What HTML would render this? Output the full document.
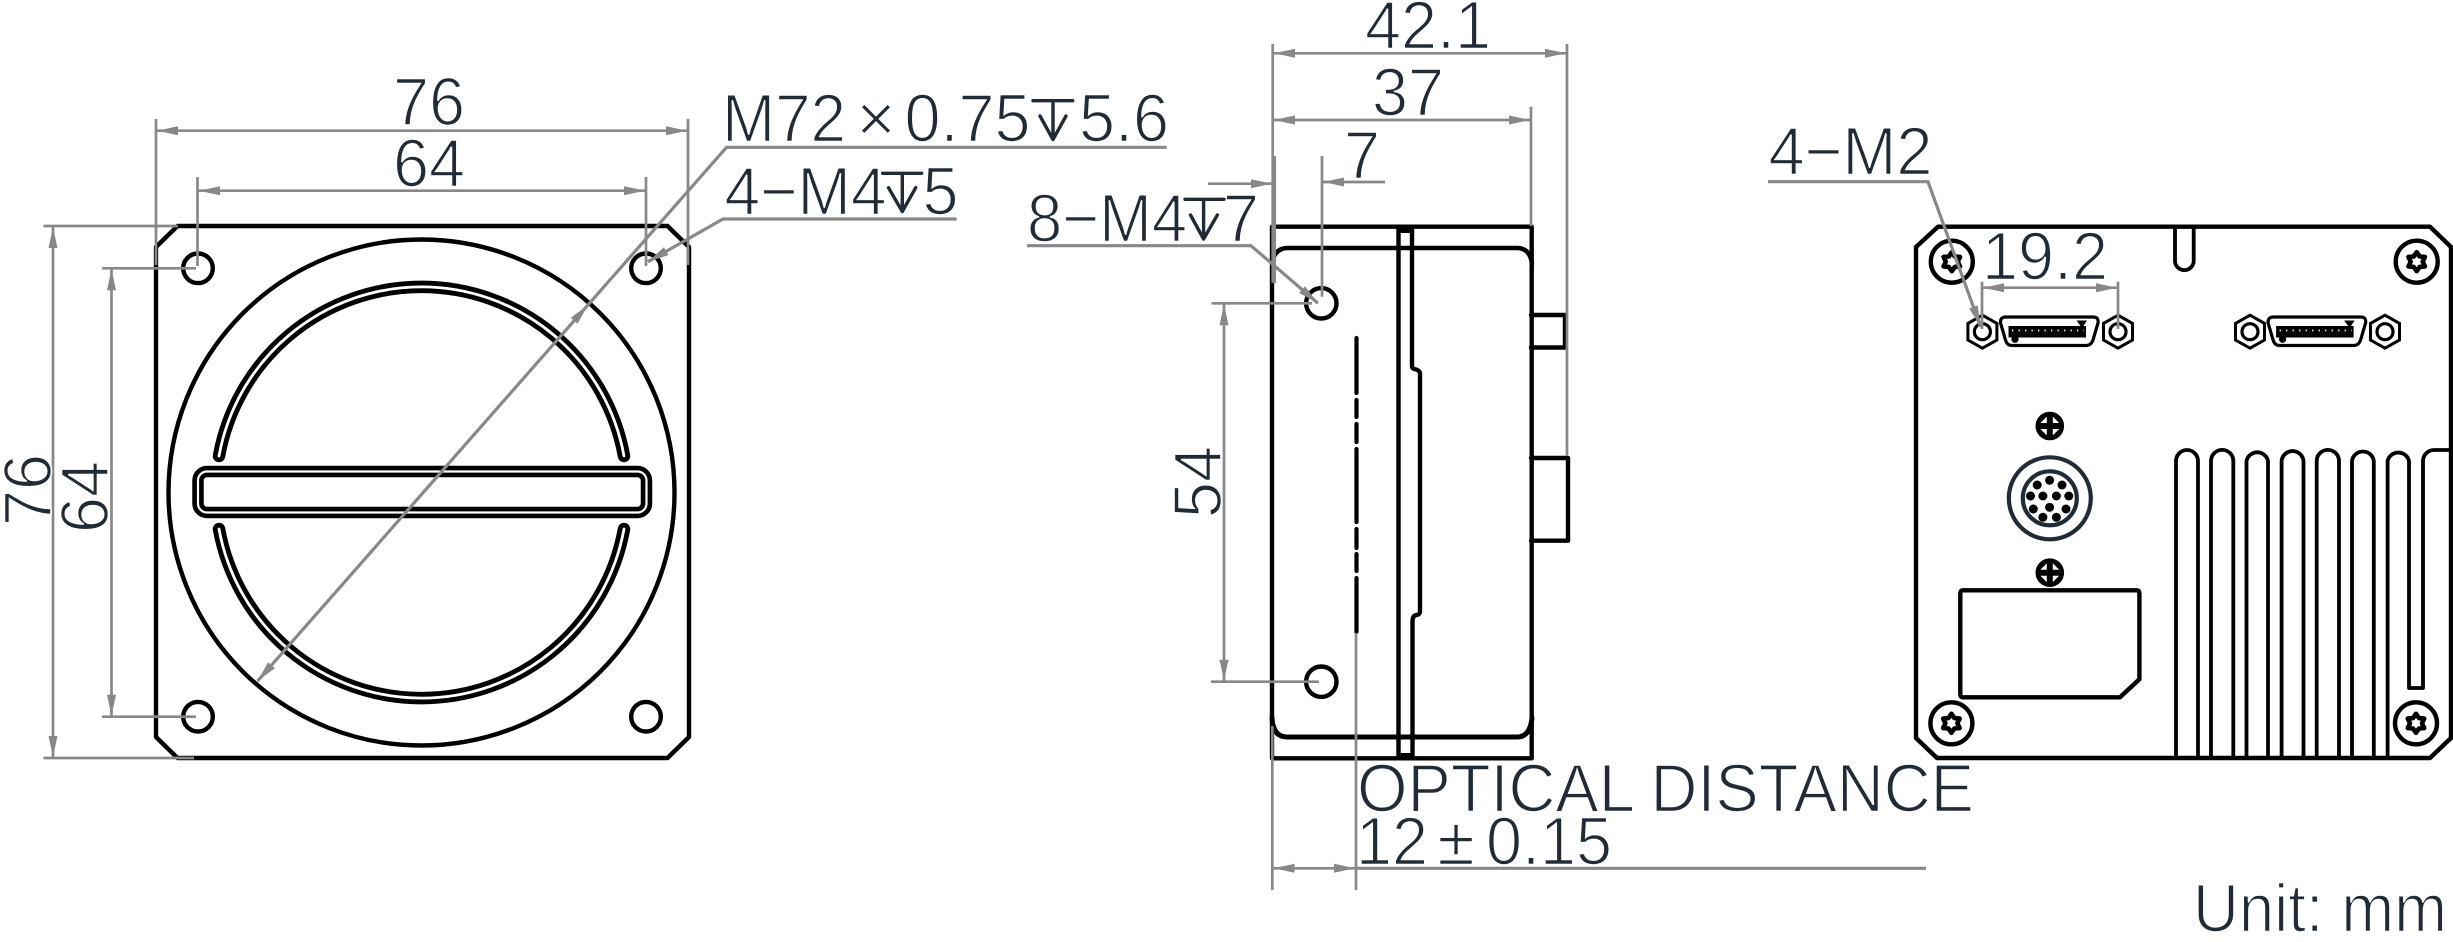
<!DOCTYPE html>
<html>
<head>
<meta charset="utf-8">
<style>
html,body{margin:0;padding:0;background:#fff}
svg{display:block}
text{font-family:"Liberation Sans",sans-serif;font-size:68px;fill:#212b36;stroke:#fff;stroke-width:1.6;paint-order:normal}
.k{fill:none;stroke:#000;stroke-width:4.4;stroke-linejoin:round;stroke-linecap:round}
.f{fill:none;stroke:#000;stroke-width:3.8;stroke-linejoin:round}
.g{fill:none;stroke:#888;stroke-width:2.7}
.u{fill:none;stroke:#888;stroke-width:3.2}
.a{fill:#888;stroke:none}
.s{fill:none;stroke:#212b36;stroke-width:3.4;stroke-linecap:round;stroke-linejoin:round}
</style>
</head>
<body>
<svg xmlns="http://www.w3.org/2000/svg" width="2453" height="942" viewBox="0 0 2453 942">
<defs>
<g id="screw">
<circle r="21" fill="#fff" stroke="#000" stroke-width="4.4"/>
<polygon points="0,-9.5 3,-5.2 8.23,-4.75 6,0 8.23,4.75 3,5.2 0,9.5 -3,5.2 -8.23,4.75 -6,0 -8.23,-4.75 -3,-5.2" fill="#fff" stroke="#000" stroke-width="4.6" stroke-linejoin="round"/>
</g>
<g id="nut">
<polygon points="0,-16.500 14.500,-8.300 14.500,8.300 0,16.500 -14.500,8.300 -14.500,-8.300" fill="#fff" stroke="#000" stroke-width="3" stroke-linejoin="miter"/>
<circle r="8" fill="#fff" stroke="#000" stroke-width="3.2"/>
</g>
<g id="conn">
<path d="M2006 317H2093Q2099 317 2098 323L2093 340Q2091 345.500 2086 345.500H2012Q2007 345.500 2005.500 340L2000.500 323Q2000 317 2006 317Z" fill="#fff" stroke="#000" stroke-width="3.2"/>
<rect x="2008.500" y="326" width="77.500" height="11.500" fill="#000"/>
<path d="M2012 330.500H2084" stroke="#fff" stroke-width="1.800" stroke-dasharray="1.300 5.200" fill="none"/>
<polygon points="2076.500,320.500 2087,320.500 2082,328" fill="#000"/>
<circle cx="2015" cy="339.300" r="3.600" fill="#000"/>
</g>
<g id="cross">
<circle r="14.300" fill="#000"/>
<path d="M3 3H9.400L3 9.400ZM-3 3H-9.400L-3 9.400ZM3 -3H9.400L3 -9.400ZM-3 -3H-9.400L-3 -9.400Z" fill="#fff"/>
</g>
<polygon id="ar" class="a" points="0,0 21,-4.500 21,4.500"/>
</defs>

<!-- FRONT VIEW -->
<path class="k" d="M177.500 226H667.500L689 247V737L667.500 758H177.500L156 737V247Z"/>
<circle class="k" cx="421.500" cy="492.500" r="253"/>
<g fill="none" stroke-linecap="round">
<path d="M219 456A205.800 205.800 0 0 1 624 456" stroke="#000" stroke-width="12.500"/>
<path d="M219 456A205.800 205.800 0 0 1 624 456" stroke="#fff" stroke-width="2.800"/>
<path d="M219 529A205.800 205.800 0 0 0 624 529" stroke="#000" stroke-width="12.500"/>
<path d="M219 529A205.800 205.800 0 0 0 624 529" stroke="#fff" stroke-width="2.800"/>
</g>
<rect x="198" y="471.500" width="448.500" height="41" rx="9" fill="#fff" stroke="#000" stroke-width="11.500"/>
<rect x="198" y="471.500" width="448.500" height="41" rx="9" fill="none" stroke="#fff" stroke-width="2.200"/>
<circle class="k" cx="198" cy="268.300" r="14.800"/>
<circle class="k" cx="646" cy="268.300" r="14.800"/>
<circle class="k" cx="198" cy="716.700" r="14.800"/>
<circle class="k" cx="646" cy="716.700" r="14.800"/>

<!-- front dims -->
<g class="g">
<path d="M156 119V265M688 119V265M197.500 177V266M646 177V266"/>
<path d="M156 130.700H688M198 190.700H646"/>
<path d="M43.500 226H178M43.500 758H194M102 268.300H196M102 716.700H196"/>
<path d="M53 226V758M111.500 268.300V716.700"/>
<path class="u" d="M1166.700 147.300H726.500L257.600 681M956.700 219H723L648 261.700"/>
</g>
<use href="#ar" transform="translate(157,130.700)"/>
<use href="#ar" transform="translate(687,130.700) rotate(180)"/>
<use href="#ar" transform="translate(199,190.700)"/>
<use href="#ar" transform="translate(645,190.700) rotate(180)"/>
<use href="#ar" transform="translate(53,227) rotate(90)"/>
<use href="#ar" transform="translate(53,757) rotate(-90)"/>
<use href="#ar" transform="translate(111.500,269.300) rotate(90)"/>
<use href="#ar" transform="translate(111.500,715.700) rotate(-90)"/>
<use href="#ar" transform="translate(588,305) rotate(131.300)"/>
<use href="#ar" transform="translate(257.600,681) rotate(-48.700)"/>
<use href="#ar" transform="translate(648,261.700) rotate(-30)"/>

<!-- SIDE VIEW -->
<path class="k" d="M1272 226.700H1531.700V758.300H1272Z"/>
<path class="k" d="M1272 264Q1274 248 1288 248H1517Q1530 248 1532 264"/>
<path class="k" style="stroke-width:5" d="M1272 718Q1273 737 1287 737H1517Q1530 737 1532 718"/>
<path class="k" d="M1398.500 226.700V758"/>
<path class="k" d="M1412 226.700V366Q1412 368 1414 369Q1420 370 1420 374V611Q1420 615 1416 615Q1412.500 616 1412.500 621V758"/>
<rect x="1398" y="226" width="14.500" height="7" fill="#000"/>
<rect x="1398" y="753" width="14.500" height="6" fill="#000"/>
<path style="fill:none;stroke:#000;stroke-width:4.200;stroke-linecap:round" d="M1356.500 338V393M1356.500 400V417M1356.500 424V442M1356.500 449V522M1356.500 529V548M1356.500 554V571M1356.500 578V632"/>
<path class="k" d="M1531 315H1565V347.500H1531"/>
<path class="k" d="M1531 458H1568V540.700H1531"/>
<circle class="k" cx="1321.300" cy="303.300" r="15.200"/>
<circle class="k" cx="1321.300" cy="681.700" r="15.200"/>

<!-- side dims -->
<g class="g">
<path d="M1272.700 44V283M1274.700 156V283M1567 44V456M1531 106.700V226M1322 156V296.700"/>
<path d="M1273 53.300H1567M1273 120H1531M1208 183.700H1272M1323 182H1385"/>
<path d="M1211.500 303.300H1312M1211 681.700H1319M1224 303.300V681.700"/>
<path d="M1272.300 726V890M1356 633V890"/>
<path d="M1273 868.300H1356"/>
<path class="u" d="M1356 868.300H1926"/>
<path class="u" d="M1027 245.700H1251L1318 303.300"/>
</g>
<use href="#ar" transform="translate(1274,53.300)"/>
<use href="#ar" transform="translate(1566,53.300) rotate(180)"/>
<use href="#ar" transform="translate(1274,120)"/>
<use href="#ar" transform="translate(1530,120) rotate(180)"/>
<use href="#ar" transform="translate(1272,183.700) rotate(180)"/>
<use href="#ar" transform="translate(1323,182)"/>
<use href="#ar" transform="translate(1224,304.300) rotate(90)"/>
<use href="#ar" transform="translate(1224,680.700) rotate(-90)"/>
<use href="#ar" transform="translate(1273.500,868.300)"/>
<use href="#ar" transform="translate(1355,868.300) rotate(180)"/>
<use href="#ar" transform="translate(1318,303.300) rotate(220.700)"/>

<!-- REAR VIEW -->
<path class="k" d="M1938 226.700H2430L2451 247V738L2430 758H1937L1916 738V247Z"/>
<path class="f" d="M2175 226.700V261.700A9.400 9.400 0 0 0 2193.700 261.700V226.700"/>
<use href="#screw" x="1951.800" y="261.700"/>
<use href="#screw" x="2416.700" y="261.700"/>
<use href="#screw" x="1951.400" y="723.300"/>
<use href="#screw" x="2416" y="723.300"/>
<use href="#nut" x="1982.400" y="331.700"/>
<use href="#nut" x="2118" y="331.700"/>
<use href="#nut" x="2250" y="331.700"/>
<use href="#nut" x="2385" y="331.700"/>
<use href="#conn"/>
<use href="#conn" x="267.600"/>
<use href="#cross" x="2049.800" y="426"/>
<use href="#cross" x="2049.800" y="572.700"/>
<circle cx="2049.800" cy="498.300" r="41" fill="none" stroke="#212b36" stroke-width="4.200"/>
<circle cx="2049.800" cy="498.300" r="27" fill="none" stroke="#212b36" stroke-width="4.200"/>
<g fill="#000">
<circle cx="2049.600" cy="480.300" r="4.500"/><circle cx="2037.200" cy="485" r="4.500"/><circle cx="2062" cy="485" r="4.500"/>
<circle cx="2030.500" cy="496" r="4.500"/><circle cx="2042.900" cy="496" r="4.500"/><circle cx="2056.400" cy="496" r="4.500"/><circle cx="2068.800" cy="496" r="4.500"/>
<circle cx="2033.300" cy="509" r="4.500"/><circle cx="2049.600" cy="507.300" r="4.500"/><circle cx="2066" cy="509" r="4.500"/>
<circle cx="2042.900" cy="517.300" r="4.500"/><circle cx="2056.400" cy="517.300" r="4.500"/>
</g>
<path class="k" d="M1963 590.300H2136.500Q2139.400 590.300 2139.400 593.300V679.300L2120 697.300H1963Q1960.300 697.300 1960.300 694.300V593.300Q1960.300 590.300 1963 590.300Z"/>
<g class="f">
<path d="M2176 758V461A11 11 0 0 1 2198 461V758"/>
<path d="M2211 758V461A11 11 0 0 1 2233.300 461V758"/>
<path d="M2246.500 758V461A11 11 0 0 1 2268 461V758"/>
<path d="M2281.600 758V461A11 11 0 0 1 2303.500 461V758"/>
<path d="M2316.700 758V461A11 11 0 0 1 2339 461V758"/>
<path d="M2352 758V461A11 11 0 0 1 2373.800 461V758"/>
<path d="M2387.600 758V461A11 11 0 0 1 2409 461V688H2423V461A11 11 0 0 1 2434 450H2451"/>
</g>

<!-- rear dims -->
<g class="g">
<path d="M1982 281.700V329M2118 281.700V329M1983 287.700H2117"/>
<path class="u" d="M1768 181.700H1928L1980.600 326.700"/>
</g>
<use href="#ar" transform="translate(1983,287.700)"/>
<use href="#ar" transform="translate(2117,287.700) rotate(180)"/>
<use href="#ar" transform="translate(1980.600,326.700) rotate(250)"/>

<!-- depth symbols -->
<path class="s" d="M1033 100.700H1072.700M1053 100.700V139.500M1040 116L1053 139.500L1066 116"/>
<path class="s" d="M882.700 173.300H921.700M902.300 173.300V211.500M888.500 187.700L902.300 211.500L915.700 187.700"/>
<path class="s" d="M1185 199.300H1224M1203.600 199.300V239M1190.500 215L1203.600 239L1217.400 215"/>

<!-- labels -->
<text x="393" y="125" textLength="72" lengthAdjust="spacingAndGlyphs">76</text>
<text x="393" y="186.700" textLength="72" lengthAdjust="spacingAndGlyphs">64</text>
<text x="722" y="141.700" textLength="124" lengthAdjust="spacingAndGlyphs">M72</text>
<text x="876" y="141.700" text-anchor="middle">×</text>
<text x="904.500" y="141.700" textLength="126" lengthAdjust="spacingAndGlyphs">0.75</text>
<text x="1079" y="141.700" textLength="90" lengthAdjust="spacingAndGlyphs">5.6</text>
<text x="724.500" y="214.300" textLength="162" lengthAdjust="spacingAndGlyphs">4−M4</text>
<text x="922.500" y="214.300" textLength="36" lengthAdjust="spacingAndGlyphs">5</text>
<text transform="translate(51,526) rotate(-90)" textLength="72" lengthAdjust="spacingAndGlyphs">76</text>
<text transform="translate(108,533) rotate(-90)" textLength="72" lengthAdjust="spacingAndGlyphs">64</text>
<text x="1365" y="48.500" textLength="126" lengthAdjust="spacingAndGlyphs">42.1</text>
<text x="1372" y="115.700" textLength="72" lengthAdjust="spacingAndGlyphs">37</text>
<text x="1344" y="178.300" textLength="36" lengthAdjust="spacingAndGlyphs">7</text>
<text x="1027" y="241.700" textLength="160" lengthAdjust="spacingAndGlyphs">8−M4</text>
<text x="1223" y="241.700" textLength="36" lengthAdjust="spacingAndGlyphs">7</text>
<text transform="translate(1221,518) rotate(-90)" textLength="72" lengthAdjust="spacingAndGlyphs">54</text>
<text x="1357" y="811.700" textLength="617" lengthAdjust="spacingAndGlyphs">OPTICAL DISTANCE</text>
<text x="1356" y="864.300" textLength="72" lengthAdjust="spacingAndGlyphs">12</text>
<text x="1456" y="864.300" text-anchor="middle">±</text>
<text x="1486" y="864.300" textLength="126" lengthAdjust="spacingAndGlyphs">0.15</text>
<text x="1768.500" y="174.300" textLength="164" lengthAdjust="spacingAndGlyphs">4−M2</text>
<text x="1982" y="279.300" textLength="126" lengthAdjust="spacingAndGlyphs">19.2</text>
<text x="2193" y="931.700" textLength="254" lengthAdjust="spacingAndGlyphs">Unit: mm</text>
</svg>
</body>
</html>
